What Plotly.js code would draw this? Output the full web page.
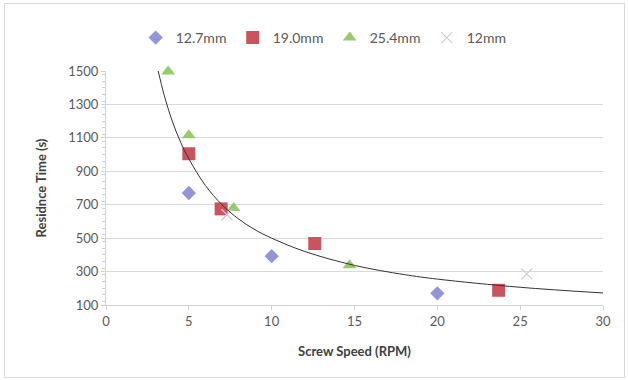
<!DOCTYPE html>
<html><head><meta charset="utf-8">
<script src="https://cdn.plot.ly/plotly-3.0.1.min.js"></script>
<style>
html,body{margin:0;padding:0;background:#fff;}
#wrap{position:relative;width:628px;height:380px;}
#chart{width:628px;height:380px;}
#frame{position:absolute;left:4px;top:3px;width:619px;height:373px;border:1px solid #d9d9d9;pointer-events:none;}
</style></head>
<body>
<div id="wrap"><div id="chart"></div><div id="frame"></div></div>
<script>
// Data
const seriesNames = ['12.7mm', '19.0mm', '25.4mm', '12mm'];
const x127 = [5, 10, 20];
const y127 = [770, 392, 170];
const x190 = [5, 6.95, 12.6, 23.7];
const y190 = [1005, 675, 468, 188];
const x254 = [3.75, 5.0, 7.7, 14.7];
const y254 = [1497, 1115, 680, 338];
const x12 = [7.3, 25.4];
const y12 = [640, 286];
// Trend curve points
const trendX = [3.15, 3.5, 4, 4.5, 5, 6, 7, 8, 9, 10, 12, 15, 18, 20, 25, 30];
const trendY = [1500, 1360, 1200, 1075, 975, 815, 700, 615, 550, 500, 420, 337, 282, 255, 206, 172];
const xTicks = [0, 5, 10, 15, 20, 25, 30];
const yTicks = [100, 300, 500, 700, 900, 1100, 1300, 1500];

const font = 'Lato, "Open Sans", "Liberation Sans", sans-serif';
const traces = [
  {x: x127, y: y127, name: seriesNames[0], type: 'scatter', mode: 'markers', cliponaxis: false,
   marker: {symbol: 'diamond', size: 11, color: '#9196d8'}},
  {x: x190, y: y190, name: seriesNames[1], type: 'scatter', mode: 'markers', cliponaxis: false,
   marker: {symbol: 'square', size: 13, color: '#c9545e'}},
  {x: x254, y: y254, name: seriesNames[2], type: 'scatter', mode: 'markers', cliponaxis: false,
   marker: {symbol: 'triangle-up', size: 12, color: '#95cc6a'}},
  {x: x12, y: y12, name: seriesNames[3], type: 'scatter', mode: 'markers', cliponaxis: false,
   marker: {symbol: 'x-thin', size: 11, line: {color: '#d8c6d6', width: 1.2}, color: '#d8c6d6'}},
  {x: trendX, y: trendY, type: 'scatter', mode: 'lines', showlegend: false, hoverinfo: 'skip',
   line: {color: '#333333', width: 1, shape: 'spline'}}
];

const layout = {
  width: 628, height: 380,
  margin: {l: 106, r: 25, t: 71, b: 75, autoexpand: false},
  paper_bgcolor: '#ffffff', plot_bgcolor: '#ffffff',
  font: {family: font, size: 13, color: '#595959'},
  showlegend: true,
  legend: {orientation: 'h', xref: 'container', yref: 'container', x: 0.525, xanchor: 'center',
           y: 0.9, yanchor: 'middle', entrywidth: 52, itemwidth: 30,
           font: {family: font, size: 14, color: '#595959'}},
  xaxis: {range: [0, 30], tickvals: xTicks, ticktext: xTicks.map(String),
          showgrid: false, zeroline: false, showline: true, linecolor: '#d0d0d0', linewidth: 1,
          ticks: 'outside', ticklen: 4, tickcolor: '#d0d0d0',
          tickfont: {family: font, size: 13, color: '#595959'},
          title: {text: 'Screw Speed (RPM)', font: {family: font, size: 13, color: '#404040', weight: 'bold'}, standoff: 19}},
  yaxis: {range: [100, 1500], tickvals: yTicks, ticktext: yTicks.map(String),
          showgrid: true, gridcolor: '#d9d9d9', gridwidth: 1, zeroline: false,
          showline: true, linecolor: '#d0d0d0', linewidth: 1,
          ticks: 'outside', ticklen: 4, tickcolor: '#d0d0d0',
          minor: {ticks: 'outside', ticklen: 3, tickcolor: '#d0d0d0', dtick: 40, showgrid: false},
          tickfont: {family: font, size: 13, color: '#595959'},
          title: {text: 'Residnce Time (s)', font: {family: font, size: 13, color: '#404040', weight: 'bold'}, standoff: 18}}
};
Plotly.newPlot('chart', traces, layout, {displayModeBar: false, staticPlot: true});
</script>
</body></html>
